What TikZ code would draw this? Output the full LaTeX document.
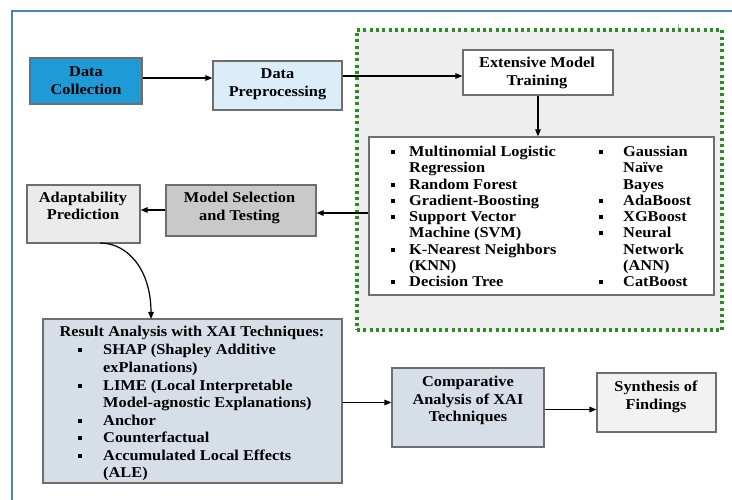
\documentclass[tikz,border=0pt]{standalone}
\usepackage{fontspec}
\setmainfont{Liberation Serif}[FakeStretch=1.09]
\usetikzlibrary{arrows.meta}
\definecolor{frameblue}{HTML}{4F81BD}
\definecolor{bordergray}{HTML}{6E6E6E}
\definecolor{dcblue}{HTML}{1E9AD6}
\definecolor{dplight}{HTML}{DCEDFA}
\definecolor{grnfill}{HTML}{EEEEEE}
\definecolor{grndot}{HTML}{2B8C22}
\definecolor{msgray}{HTML}{C9C9C9}
\definecolor{apgray}{HTML}{EBEBEB}
\definecolor{raslate}{HTML}{D6DEE8}
\definecolor{sfgray}{HTML}{F2F2F2}
\tikzset{
  box/.style={draw=bordergray, line width=1.2pt, rectangle, inner sep=0pt},
  txt/.style={anchor=base, inner sep=0pt, font=\fontsize{15}{17}\selectfont\bfseries},
  itm/.style={anchor=base west, inner sep=0pt, font=\fontsize{15}{17}\selectfont\bfseries},
  arr/.style={draw=black, line width=1.2pt, -{Triangle[length=7pt,width=5.5pt]}},
}
\newcommand{\bulA}{\llap{\rule[2.5pt]{4pt}{4pt}\hspace{14pt}}}
\newcommand{\bulB}{\llap{\rule[2.5pt]{4pt}{4pt}\hspace{20pt}}}
\newcommand{\bulC}{\llap{\rule[2.5pt]{4pt}{4pt}\hspace{21pt}}}
\begin{document}
\begin{tikzpicture}[x=1pt,y=-1pt]
\useasboundingbox (0,0) rectangle (732,500);
% outer frame (cropped)
\draw[frameblue, line width=1.8pt] (732,11) -- (12,11) -- (12,500);
\draw[gray!60, line width=0.6pt] (678,24) -- (678,32);

% green dotted region
\node[rectangle, fill=grnfill, draw=grndot, line width=3.2pt, dash pattern=on 3pt off 3.3pt,
      minimum width=365pt, minimum height=300pt, inner sep=0pt] (grn) at (539.5,180) {};

% boxes
\node[box, fill=dcblue, minimum width=112pt, minimum height=46pt] (dc) at (86,81) {};
\node[box, fill=dplight, minimum width=129pt, minimum height=49pt] (dp) at (277.5,85.5) {};
\node[box, fill=white, minimum width=150pt, minimum height=45pt] (emt) at (538,72.5) {};
\node[box, fill=white, minimum width=345pt, minimum height=158pt] (lst) at (541.5,216) {};
\node[box, fill=msgray, minimum width=150pt, minimum height=51pt] (ms) at (241,210.5) {};
\node[box, fill=apgray, minimum width=113pt, minimum height=58pt] (ap) at (83.5,214) {};
\node[box, fill=raslate, minimum width=299pt, minimum height=164pt] (ra) at (192.5,401) {};
\node[box, fill=raslate, minimum width=152pt, minimum height=79pt] (ca) at (468,407.5) {};
\node[box, fill=sfgray, minimum width=119pt, minimum height=59pt] (sf) at (656.5,402.5) {};

% box texts
\node[txt] (dc1) at (86,76.7) {Data};
\node[txt] (dc2) at (86,94.3) {Collection};
\node[txt] (dp1) at (277.5,79) {Data};
\node[txt] (dp2) at (277.5,96.7) {Preprocessing};
\node[txt] (emt1) at (537,67.7) {Extensive Model};
\node[txt] (emt2) at (537,86) {Training};
\node[txt] (ms1) at (239.5,202.7) {Model Selection};
\node[txt] (ms2) at (239.5,220.7) {and Testing};
\node[txt] (ap1) at (83,202.3) {Adaptability};
\node[txt] (ap2) at (83,220) {Prediction};
\node[txt] (ca1) at (468,386) {Comparative};
\node[txt] (ca2) at (468,404) {Analysis of XAI};
\node[txt] (ca3) at (468,421.7) {Techniques};
\node[txt] (sf1) at (656,391.7) {Synthesis of};
\node[txt] (sf2) at (656,409.3) {Findings};

% model list, left column
\node[itm] (l1) at (409,156.5) {\bulA Multinomial Logistic};
\node[itm] (l2) at (409,172.8) {Regression};
\node[itm] (l3) at (409,189.1) {\bulA Random Forest};
\node[itm] (l4) at (409,205.4) {\bulA Gradient-Boosting};
\node[itm] (l5) at (409,221.7) {\bulA Support Vector};
\node[itm] (l6) at (409,238.0) {Machine (SVM)};
\node[itm] (l7) at (409,254.3) {\bulA K-Nearest Neighbors};
\node[itm] (l8) at (409,270.6) {(KNN)};
\node[itm] (l9) at (409,286.9) {\bulA Decision Tree};
% right column
\node[itm] (r1) at (623,156.5) {\bulB Gaussian};
\node[itm] (r2) at (623,172.8) {Naïve};
\node[itm] (r3) at (623,189.1) {Bayes};
\node[itm] (r4) at (623,205.4) {\bulB AdaBoost};
\node[itm] (r5) at (623,221.7) {\bulB XGBoost};
\node[itm] (r6) at (623,238.0) {\bulB Neural};
\node[itm] (r7) at (623,254.3) {Network};
\node[itm] (r8) at (623,270.6) {(ANN)};
\node[itm] (r9) at (623,286.9) {\bulB CatBoost};

% result analysis text
\node[txt] (ra0) at (192,337) {Result Analysis with XAI Techniques:};
\node[itm] (x1) at (103,355) {\bulC SHAP (Shapley Additive};
\node[itm] (x2) at (103,372.5) {exPlanations)};
\node[itm] (x3) at (103,390) {\bulC LIME (Local Interpretable};
\node[itm] (x4) at (103,407.5) {Model-agnostic Explanations)};
\node[itm] (x5) at (103,425) {\bulC Anchor};
\node[itm] (x6) at (103,442.5) {\bulC Counterfactual};
\node[itm] (x7) at (103,460) {\bulC Accumulated Local Effects};
\node[itm] (x8) at (103,477.5) {(ALE)};

% connectors
\draw[arr] (dc.east |- 0,78) -- (dp.west |- 0,78);
\draw[arr] (dp.east |- 0,76) -- (emt.west |- 0,76);
\draw[arr] (emt.south) -- (emt.south |- lst.north);
\draw[arr] (lst.west |- 0,213) -- (ms.east |- 0,213);
\draw[arr] (ms.west |- 0,210) -- (ap.east |- 0,210);
\coordinate (apout) at (100,243);
\coordinate (rain) at (151,319);
\draw[arr] (apout) .. controls (128,243) and (151,270) .. (rain);
\draw[arr] (ra.east |- 0,402.5) -- (ca.west |- 0,402.5);
\draw[arr] (ca.east |- 0,409.5) -- (sf.west |- 0,409.5);
\end{tikzpicture}
\end{document}
